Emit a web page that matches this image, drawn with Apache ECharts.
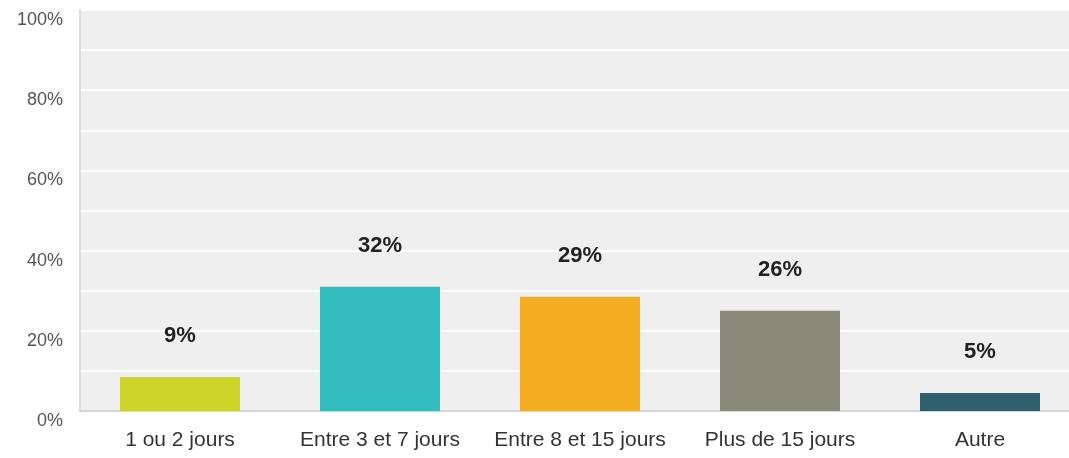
<!DOCTYPE html>
<html>
<head>
<meta charset="utf-8">
<script src="https://cdn.jsdelivr.net/npm/echarts@6/dist/echarts.min.js"></script>
<style>
  html, body { margin: 0; padding: 0; background: #fff; overflow: hidden; }
  #chart { width: 1080px; height: 458px; }
</style>
</head>
<body>
<div id="chart"></div>
<script>
// données
var categories = ["1 ou 2 jours", "Entre 3 et 7 jours", "Entre 8 et 15 jours", "Plus de 15 jours", "Autre"];
var barValues = [8.5, 31, 28.5, 25, 4.5];
var percentLabels = ["9%", "32%", "29%", "26%", "5%"];
var barColors = ["#cdd42a", "#33bdbf", "#f5ae22", "#8a8a7a", "#2e5f6c"];
var yTicks = [0, 20, 40, 60, 80, 100];

(function() {
  var myChart = echarts.init(document.getElementById("chart"));

  var option = {
    animation: false,
    grid: {
      left: 80,
      right: 0,
      top: 10,
      bottom: 47,
      show: true,
      backgroundColor: "#efefef",
      borderWidth: 0
    },
    xAxis: {
      type: "category",
      data: categories,
      axisTick: { show: false },
      axisLine: {
        lineStyle: { color: "#d6d6d6", width: 2 }
      },
      axisLabel: {
        interval: 0,
        hideOverlap: false,
        color: "#333",
        fontSize: 21,
        fontFamily: "Liberation Sans, Arial",
        margin: 19
      }
    },
    yAxis: {
      type: "value",
      min: 0,
      max: 100,
      interval: 10,
      axisLine: {
        show: true,
        lineStyle: { color: "#dcdcdc", width: 2 }
      },
      axisTick: { show: false },
      splitLine: {
        lineStyle: { color: "#ffffff", width: 2 }
      },
      axisLabel: {
        color: "#555",
        fontSize: 18,
        fontFamily: "Liberation Sans, Arial",
        margin: 17,
        verticalAlign: "top",
        lineHeight: 20,
        formatter: function(v) {
          return yTicks.indexOf(v) >= 0 ? v + "%" : "";
        }
      }
    },
    series: [
      {
        type: "bar",
        barWidth: "60%",
        data: barValues.map(function(v, i) {
          return { value: v, itemStyle: { color: barColors[i] } };
        }),
        label: {
          show: true,
          position: "top",
          distance: 30,
          color: "#222",
          fontSize: 22,
          fontWeight: "bold",
          fontFamily: "Liberation Sans, Arial",
          formatter: function(p) {
            return percentLabels[p.dataIndex];
          }
        }
      }
    ]
  };

  myChart.setOption(option);
  window.addEventListener("resize", function() {
    myChart.resize();
  });
})();
</script>
</body>
</html>
